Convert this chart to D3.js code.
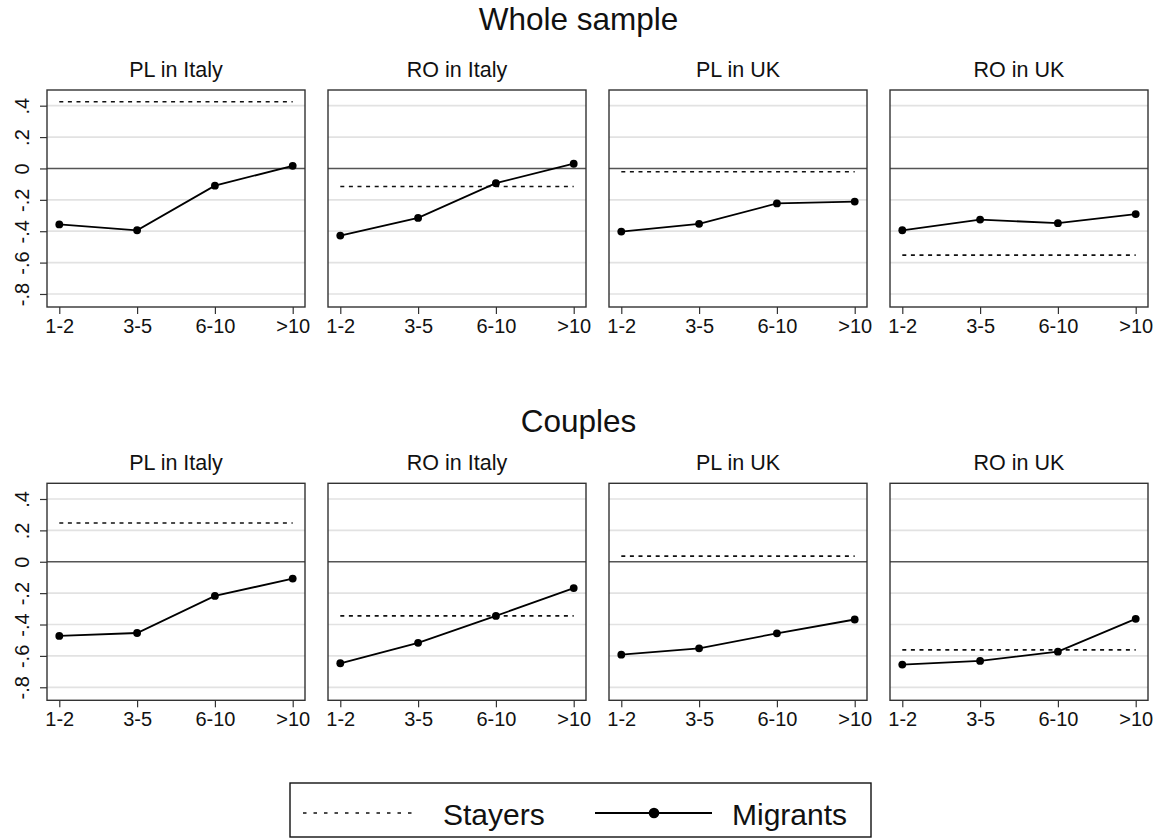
<!DOCTYPE html>
<html>
<head>
<meta charset="utf-8">
<script src="https://cdn.jsdelivr.net/npm/d3@7"></script>
<style>
  html, body { margin: 0; padding: 0; background: #fff; }
  svg { display: block; font-family: "Liberation Sans", Arial, Helvetica, sans-serif; }
</style>
</head>
<body>
<svg id="chart" width="1157" height="839"></svg>
<script>
const categories = ["1-2", "3-5", "6-10", ">10"];
const panelTitles = ["PL in Italy", "RO in Italy", "PL in UK", "RO in UK"];
const rowTitles = ["Whole sample", "Couples"];
const yTicks = [-0.8, -0.6, -0.4, -0.2, 0, 0.2, 0.4];
const yTickLabels = ["-.8", "-.6", "-.4", "-.2", "0", ".2", ".4"];
const legendLabels = ["Stayers", "Migrants"];

const wholeStayers = [0.425, -0.115, -0.021, -0.553];
const wholeMigrants = [
  [-0.357, -0.394, -0.110, 0.017],
  [-0.428, -0.315, -0.094, 0.030],
  [-0.402, -0.353, -0.223, -0.211],
  [-0.394, -0.326, -0.349, -0.291]
];
const couplesStayers = [0.247, -0.345, 0.036, -0.561];
const couplesMigrants = [
  [-0.473, -0.454, -0.218, -0.107],
  [-0.647, -0.517, -0.345, -0.168],
  [-0.592, -0.552, -0.456, -0.368],
  [-0.655, -0.632, -0.573, -0.364]
];

const rows = [
  { title: rowTitles[0], stayers: wholeStayers, migrants: wholeMigrants },
  { title: rowTitles[1], stayers: couplesStayers, migrants: couplesMigrants }
];

const svg = d3.select("#chart");
const W = 1157;
const panelLefts = [47, 328, 609, 890];
const panelW = 258;
const rowTops = [90, 483.3];
const panelH = 217;
const rowTitleBaselines = [30, 432];

const x = d3.scalePoint().domain(categories).range([0, panelW]).padding(0.158);
const y = d3.scaleLinear().domain([-0.883, 0.5]).range([panelH, 0]);

const boxColor = "#333";
const gridColor = "#e2e2e2";

rows.forEach((row, ri) => {
  const top = rowTops[ri];
  svg.append("text")
    .attr("x", W / 2).attr("y", rowTitleBaselines[ri])
    .attr("text-anchor", "middle")
    .attr("font-size", 31.5)
    .attr("fill", "#111")
    .text(row.title);

  panelTitles.forEach((pt, pi) => {
    const g = svg.append("g").attr("transform", `translate(${panelLefts[pi]},${top})`);

    g.append("text")
      .attr("x", panelW / 2).attr("y", -13)
      .attr("text-anchor", "middle")
      .attr("font-size", 21.5)
      .attr("fill", "#111")
      .text(pt);

    g.append("g").selectAll("line").data(yTicks.filter(t => t !== 0)).join("line")
      .attr("x1", 0).attr("x2", panelW)
      .attr("y1", d => y(d)).attr("y2", d => y(d))
      .attr("stroke", gridColor).attr("stroke-width", 1.7);

    g.append("line")
      .attr("x1", 0).attr("x2", panelW)
      .attr("y1", y(0)).attr("y2", y(0))
      .attr("stroke", "#555").attr("stroke-width", 1.5);

    g.append("rect")
      .attr("x", 0).attr("y", 0).attr("width", panelW).attr("height", panelH)
      .attr("fill", "none").attr("stroke", boxColor).attr("stroke-width", 1.4);

    const xa = g.append("g").attr("transform", `translate(0,${panelH})`)
      .call(d3.axisBottom(x).tickSize(7).tickPadding(5));
    xa.select(".domain").remove();
    xa.selectAll(".tick line").attr("stroke", boxColor).attr("stroke-width", 1.2);
    xa.selectAll(".tick text").attr("font-size", 20).attr("fill", "#111")
      .attr("font-family", "Liberation Sans, Arial, sans-serif");

    if (pi === 0) {
      const ya = g.append("g")
        .call(d3.axisLeft(y).tickValues(yTicks).tickSize(7)
          .tickFormat((d, i) => yTickLabels[i]));
      ya.select(".domain").remove();
      ya.selectAll(".tick line").attr("stroke", boxColor).attr("stroke-width", 1.2);
      ya.selectAll(".tick text")
        .attr("font-size", 20).attr("fill", "#111")
        .attr("font-family", "Liberation Sans, Arial, sans-serif")
        .attr("text-anchor", "middle")
        .attr("dy", null)
        .attr("x", null)
        .attr("dominant-baseline", "central")
        .attr("transform", "translate(-25,0) rotate(-90)");
    }

    const sv = row.stayers[pi];
    g.append("line")
      .attr("x1", x(categories[0])).attr("x2", x(categories[categories.length - 1]))
      .attr("y1", y(sv)).attr("y2", y(sv))
      .attr("stroke", "#111").attr("stroke-width", 1.7)
      .attr("stroke-dasharray", "4,4.6");

    const pts = categories.map((c, i) => ({ c, v: row.migrants[pi][i] }));
    g.append("path").datum(pts)
      .attr("fill", "none").attr("stroke", "#000").attr("stroke-width", 1.8)
      .attr("d", d3.line().x(d => x(d.c)).y(d => y(d.v)));
    g.append("g").selectAll("circle").data(pts).join("circle")
      .attr("cx", d => x(d.c)).attr("cy", d => y(d.v)).attr("r", 3.9)
      .attr("fill", "#000");
  });
});

const lg = svg.append("g");
lg.append("rect")
  .attr("x", 290).attr("y", 783).attr("width", 581).attr("height", 54)
  .attr("fill", "#fff").attr("stroke", "#111").attr("stroke-width", 1.4);
lg.append("line")
  .attr("x1", 303).attr("x2", 415).attr("y1", 813).attr("y2", 813)
  .attr("stroke", "#111").attr("stroke-width", 1.5).attr("stroke-dasharray", "3.5,7");
lg.append("text").attr("x", 443).attr("y", 825).attr("font-size", 30).attr("fill", "#111").text(legendLabels[0]);
lg.append("line")
  .attr("x1", 595).attr("x2", 712).attr("y1", 813).attr("y2", 813)
  .attr("stroke", "#000").attr("stroke-width", 2);
lg.append("circle").attr("cx", 654).attr("cy", 813).attr("r", 5.3).attr("fill", "#000");
lg.append("text").attr("x", 732).attr("y", 825).attr("font-size", 30).attr("fill", "#111").text(legendLabels[1]);
</script>
</body>
</html>
